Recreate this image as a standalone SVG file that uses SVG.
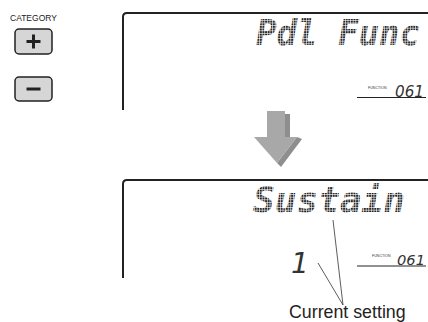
<svg xmlns="http://www.w3.org/2000/svg" width="428" height="322" viewBox="0 0 428 322">
<style>
.lbl{font-family:"Liberation Sans",Arial,sans-serif;fill:#222}
.frame{fill:none;stroke:#222;stroke-width:2}
.btn{fill:#d6d6d6;stroke:#222;stroke-width:1.5}
.sym{stroke:#222;stroke-width:3;stroke-linecap:butt}
.lcd{font-family:"DejaVu Sans Mono",monospace;font-style:oblique;font-weight:bold;fill:url(#dots)}
.seg{font-family:"DejaVu Sans",sans-serif;font-style:oblique;fill:#333}
.tiny{font-family:"Liberation Sans",Arial,sans-serif;font-size:3.6px;fill:#333}
.rule{stroke:#222;stroke-width:1.2}
.lead{stroke:#333;stroke-width:0.8;fill:none}
</style>
<defs>
<pattern id="dots" width="2.6" height="2.6" patternUnits="userSpaceOnUse"><rect width="2" height="2" fill="#2a2a2a"/></pattern>
</defs>
<rect width="428" height="322" fill="#fff"/>
<g id="category">
<text class="lbl" x="10" y="21" font-size="8.5">CATEGORY</text>
</g>
<g id="btn-plus">
<rect class="btn" x="15" y="29" width="37" height="25" rx="4"/>
<line class="sym" x1="26.5" y1="41.5" x2="40.5" y2="41.5"/>
<line class="sym" x1="33.5" y1="34.5" x2="33.5" y2="48.5"/>
</g>
<g id="btn-minus">
<rect class="btn" x="15" y="77" width="37" height="24" rx="4"/>
<line class="sym" x1="26.5" y1="89" x2="40.5" y2="89"/>
</g>
<g id="display1">
<path class="frame" d="M123,110 V17 Q123,13 127,13 H429"/>
<text class="lcd" x="256" y="45" font-size="36" textLength="164" lengthAdjust="spacingAndGlyphs">Pdl Func</text>
<text class="tiny" x="368" y="89">FUNCTION</text>
<text class="seg" x="395" y="96.5" font-size="15" textLength="29" lengthAdjust="spacingAndGlyphs">061</text>
<line class="rule" x1="357" y1="97.5" x2="426" y2="97.5"/>
</g>
<g id="arrow">
<rect x="285" y="114" width="5" height="24" fill="#8e8e8e"/>
<rect x="267" y="111" width="18" height="27" fill="#a8a8a8"/>
<polygon points="297,137 302,139 281,167 277,163" fill="#8e8e8e"/>
<polygon points="254,137 297,137 277,163" fill="#a8a8a8"/>
</g>
<g id="display2">
<path class="frame" d="M123,278 V184 Q123,180 127,180 H429"/>
<text class="lcd" x="253" y="212" font-size="36" textLength="152" lengthAdjust="spacingAndGlyphs">Sustain</text>
<text class="seg" x="291" y="273" font-size="28">1</text>
<text class="tiny" x="372" y="257">FUNCTION</text>
<text class="seg" x="397" y="264.5" font-size="14" textLength="28" lengthAdjust="spacingAndGlyphs">061</text>
<line class="rule" x1="357" y1="266" x2="426" y2="266"/>
</g>
<g id="connectors">
<line class="lead" x1="333" y1="220" x2="343" y2="305"/>
<line class="lead" x1="318" y1="263" x2="343" y2="305"/>
</g>
<g id="label">
<text class="lbl" x="289" y="318.3" font-size="17.8">Current setting</text>
</g>
</svg>
